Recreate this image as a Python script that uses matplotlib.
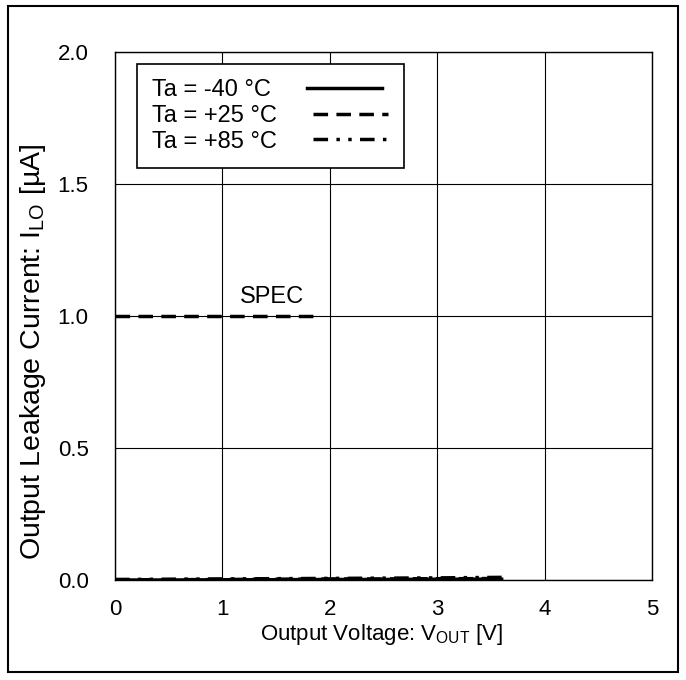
import matplotlib
matplotlib.use("Agg")
import matplotlib.pyplot as plt
from matplotlib.patches import Rectangle

plt.rcParams['font.family'] = ['Liberation Sans', 'DejaVu Sans']

vout = [0.0, 0.5, 1.0, 1.5, 2.0, 2.5, 3.0, 3.3, 3.6]
i_m40 = [0.000, 0.000, 0.001, 0.001, 0.002, 0.002, 0.003, 0.003, 0.003]
i_p25 = [0.001, 0.001, 0.002, 0.003, 0.004, 0.004, 0.005, 0.005, 0.006]
i_p85 = [0.002, 0.003, 0.004, 0.005, 0.006, 0.007, 0.008, 0.009, 0.010]
spec_x = [0.0, 1.85]
spec_y = [1.0, 1.0]
labels = ['Ta = -40 °C', 'Ta = +25 °C', 'Ta = +85 °C']

FS = 16
fig = plt.figure(figsize=(6.86, 6.80), dpi=100)
ax = fig.add_axes([115/686, 1-580/680, (652-115)/686, (580-52)/680])

dash = (0, (4.2, 2.4))
dashdotdot = (0, (4.2, 2.4, 1, 2.4, 1, 2.4))
LW = 2.5
l1, = ax.plot(vout, i_m40, color='black', lw=LW, ls='-')
l2, = ax.plot(vout, i_p25, color='black', lw=LW, ls=dash)
l3, = ax.plot(vout, i_p85, color='black', lw=LW, ls=dashdotdot)
ax.plot(spec_x, spec_y, color='black', lw=LW, ls=dash)
ax.text(1.46, 1.03, 'SPEC', fontsize=17, ha='center', va='bottom')

ax.set_xlim(0, 5)
ax.set_ylim(0, 2.0)
ax.set_xticks([0, 1, 2, 3, 4, 5])
ax.set_yticks([0.0, 0.5, 1.0, 1.5, 2.0])
ax.set_yticklabels(['0.0', '0.5', '1.0', '1.5', '2.0'])
ax.grid(True, color='black', lw=0.8)
ax.tick_params(length=0, labelsize=FS)
ax.tick_params(axis='x', pad=14)
ax.tick_params(axis='y', pad=19)
for s in ax.spines.values():
    s.set_linewidth(1.0)

ax.set_xlabel('Output Voltage: V$_{\\mathregular{OUT}}$ [V]', fontsize=FS)
ax.set_ylabel('Output Leakage Current: I$_{\\mathregular{LO}}$ [µA]', fontsize=20.5)
ax.xaxis.set_label_coords(0.497, -0.104)
ax.xaxis.label.set_va('center')
ax.yaxis.set_label_coords(-0.153, 0.432)
ax.yaxis.label.set_va('center')

leg = ax.legend([l1, l2, l3], labels, loc='upper left', bbox_to_anchor=(0.041, 0.977),
                fontsize=17, frameon=True, fancybox=False, edgecolor='black',
                handlelength=3.2, markerfirst=False, borderpad=0.65, labelspacing=0.15,
                handletextpad=1.5, borderaxespad=0)
leg.get_frame().set_linewidth(1.2)
leg.get_frame().set_alpha(1)
try:
    for col in leg._legend_handle_box.get_children():
        col.align = 'left'
except Exception:
    pass

fig.patches.append(Rectangle((8/686, 1-672/680), (678-8)/686, (672-6)/680,
                             transform=fig.transFigure, fill=False, edgecolor='black', lw=1.5))

fig.savefig('out.png', dpi=100)
